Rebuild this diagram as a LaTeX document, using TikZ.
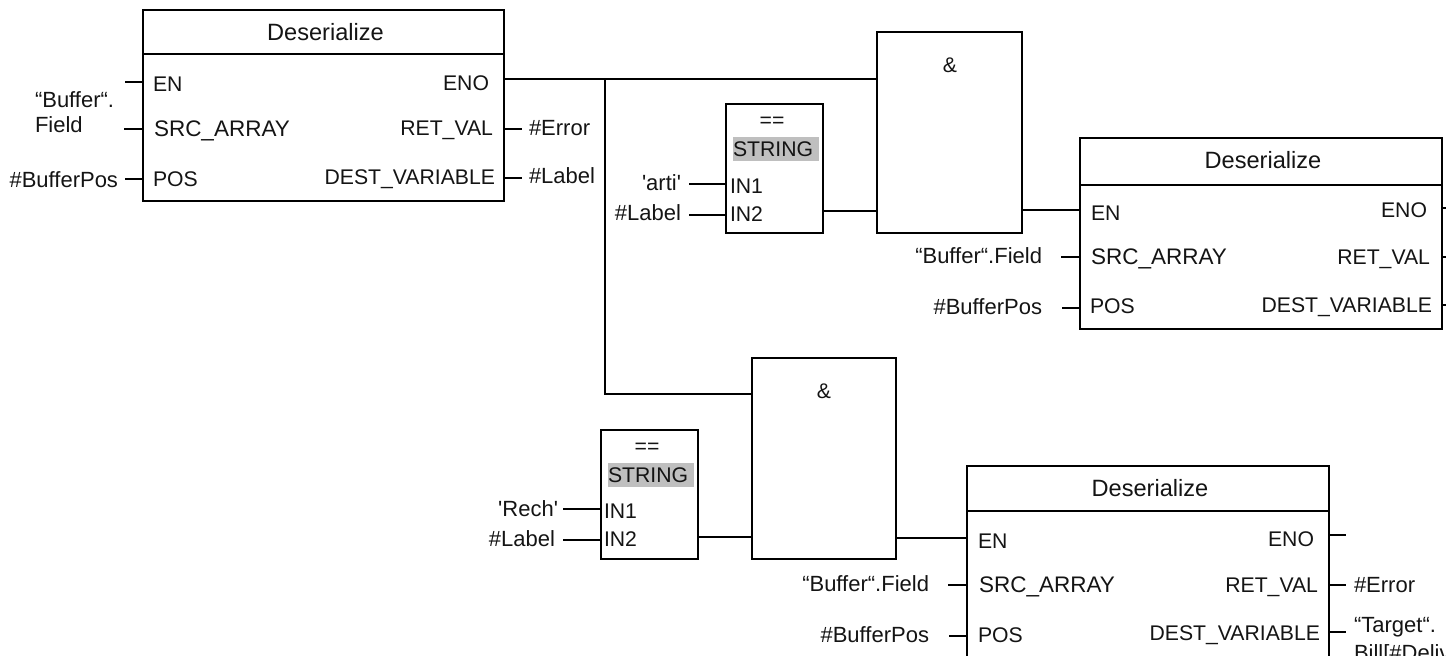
\documentclass[tikz,border=0pt]{standalone}
\usepackage{fontspec}
\setmainfont{Liberation Sans}
\newfontfamily\qf{Liberation Sans}
\tikzset{
  x=0.5pt,y=0.5pt,
  block/.style={draw=black,line width=1.1pt,inner sep=0pt,outer sep=0pt,fill=none},
  wire/.style={draw=black,line width=0.9pt},
  rulel/.style={draw=black,line width=0.7pt},
  txt/.style={inner sep=0pt,outer sep=0pt,text=black!92},
  pin/.style={txt,font=\qf\fontsize{10.6}{13}\selectfont},
  val/.style={txt,font=\qf\fontsize{11}{13}\selectfont},
  ttl/.style={txt,font=\qf\fontsize{11.8}{14}\selectfont,anchor=base},
  lp/.style={pin,anchor=base west},
  lw/.style={txt,font=\qf\fontsize{11.25}{13}\selectfont,anchor=base west},
  rp/.style={pin,anchor=base east},
  cp/.style={pin,anchor=base},
  lv/.style={val,anchor=base west},
  rv/.style={val,anchor=base east},
  grey/.style={pin,fill=black!25,text width=43pt,align=left,minimum height=12pt},
}
\newcommand{\bbox}[5]{% name, left, top, right, bottom
  \node[block,minimum width={(#4-#2)*0.5pt},minimum height={(#5-#3)*0.5pt}] (#1) at ({(#2+#4)/2},{-(#3+#5)/2}) {};}
\begin{document}
\begin{tikzpicture}
\useasboundingbox (0,0) rectangle (1446,-656);
\clip (0,0) rectangle (1446,-656);
% blocks
\bbox{bA}{143}{10}{504}{201}
\bbox{bB}{1080}{138}{1442}{329}
\bbox{bC}{967}{466}{1329}{700}
\bbox{aA}{877}{32}{1022}{233}
\bbox{aB}{752}{358}{896}{559}
\bbox{eA}{726}{104}{823}{233}
\bbox{eB}{601}{430}{698}{559}
% grey type labels
\node[grey] (sA) at (776,-149) {STRING};
\node[grey] (sB) at (651,-475) {STRING};
% title rules
\coordinate (rA) at (143,-54);  \draw[rulel] (rA) -- (rA -| bA.east);
\coordinate (rB) at (1080,-185);\draw[rulel] (rB) -- (rB -| bB.east);
\coordinate (rC) at (967,-511); \draw[rulel] (rC) -- (rC -| bC.east);
% block A pins
\coordinate (pA1) at (125,-82);  \draw[wire] (pA1) -- (pA1 -| bA.west);
\coordinate (pA2) at (124,-129); \draw[wire] (pA2) -- (pA2 -| bA.west);
\coordinate (pA3) at (125,-179); \draw[wire] (pA3) -- (pA3 -| bA.west);
\coordinate (pA5) at (522,-129); \draw[wire] (pA5 -| bA.east) -- (pA5);
\coordinate (pA6) at (522,-178); \draw[wire] (pA6 -| bA.east) -- (pA6);
% power rail
\coordinate (jn) at (605,-79);
\draw[wire] (jn -| bA.east) -- (jn -| aA.west);
\coordinate (jm) at (605,-394);
\draw[wire] (jn) -- (jm) -- (jm -| aB.west);
% compare A
\coordinate (pE1) at (689,-184); \draw[wire] (pE1) -- (pE1 -| eA.west);
\coordinate (pE2) at (689,-215); \draw[wire] (pE2) -- (pE2 -| eA.west);
\coordinate (oE) at (823,-211);  \draw[wire] (oE) -- (oE -| aA.west);
\coordinate (oA) at (1022,-210); \draw[wire] (oA) -- (oA -| bB.west);
% block B pins
\coordinate (pB2) at (1061,-257); \draw[wire] (pB2) -- (pB2 -| bB.west);
\coordinate (pB3) at (1062,-308); \draw[wire] (pB3) -- (pB3 -| bB.west);
\coordinate (pB4) at (1447,-208); \draw[wire] (pB4 -| bB.east) -- (pB4);
\coordinate (pB5) at (1447,-257); \draw[wire] (pB5 -| bB.east) -- (pB5);
\coordinate (pB6) at (1447,-305); \draw[wire] (pB6 -| bB.east) -- (pB6);
% compare B
\coordinate (pF1) at (563,-509); \draw[wire] (pF1) -- (pF1 -| eB.west);
\coordinate (pF2) at (563,-540); \draw[wire] (pF2) -- (pF2 -| eB.west);
\coordinate (oF) at (698,-537);  \draw[wire] (oF) -- (oF -| aB.west);
\coordinate (oB) at (896,-538);  \draw[wire] (oB) -- (oB -| bC.west);
% block C pins
\coordinate (pC2) at (948,-585); \draw[wire] (pC2) -- (pC2 -| bC.west);
\coordinate (pC3) at (949,-636); \draw[wire] (pC3) -- (pC3 -| bC.west);
\coordinate (pC4) at (1346,-535); \draw[wire] (pC4 -| bC.east) -- (pC4);
\coordinate (pC5) at (1346,-585); \draw[wire] (pC5 -| bC.east) -- (pC5);
\coordinate (pC6) at (1346,-632); \draw[wire] (pC6 -| bC.east) -- (pC6);
% text block A
\node[ttl] (tA) at (325.5,-41) {Deserialize};
\node[lp] (tA1) at (153,-92) {EN};
\node[lw] (tA2) at (154,-137) {SRC\_ARRAY};
\node[lp] (tA3) at (153,-187) {POS};
\node[rp] (tA4) at (489,-91) {ENO};
\node[rp] (tA5) at (493,-136) {RET\_VAL};
\node[rp] (tA6) at (495,-185) {DEST\_VARIABLE};
\node[lv] (lA1) at (35,-108) {“Buffer“.};
\node[lv] (lA2) at (35,-133) {Field};
\node[rv] (lA3) at (118,-188) {\#BufferPos};
\node[lv] (lA5) at (529,-136) {\#Error};
\node[lv] (lA6) at (529,-184) {\#Label};
% text AND
\node[cp] (tAa) at (950,-73) {\&};
\node[cp] (tAb) at (824,-399) {\&};
% text compare A
\node[cp] (eqA) at (772,-128) {==};
\node[lp] (iA1) at (730,-194) {IN1};
\node[lp] (iA2) at (730,-222) {IN2};
\node[rv] (lE1) at (681,-191) {'arti'};
\node[rv] (lE2) at (681,-221) {\#Label};
% text block B
\node[ttl] (tB) at (1263,-169) {Deserialize};
\node[lp] (tB1) at (1091,-221) {EN};
\node[lw] (tB2) at (1091,-265) {SRC\_ARRAY};
\node[lp] (tB3) at (1090,-314) {POS};
\node[rp] (tB4) at (1427,-218) {ENO};
\node[rp] (tB5) at (1430,-265) {RET\_VAL};
\node[rp] (tB6) at (1432,-313) {DEST\_VARIABLE};
\node[rv] (lB2) at (1042,-264) {“Buffer“.Field};
\node[rv] (lB3) at (1042,-315) {\#BufferPos};
% text compare B
\node[cp] (eqB) at (647,-454) {==};
\node[lp] (iB1) at (604,-519) {IN1};
\node[lp] (iB2) at (604,-547) {IN2};
\node[rv] (lF1) at (558,-517) {'Rech'};
\node[rv] (lF2) at (555,-547) {\#Label};
% text block C
\node[ttl] (tC) at (1150,-497) {Deserialize};
\node[lp] (tC1) at (978,-549) {EN};
\node[lw] (tC2) at (979,-593) {SRC\_ARRAY};
\node[lp] (tC3) at (978,-643) {POS};
\node[rp] (tC4) at (1314,-547) {ENO};
\node[rp] (tC5) at (1318,-593) {RET\_VAL};
\node[rp] (tC6) at (1320,-641) {DEST\_VARIABLE};
\node[rv] (lC2) at (929,-592) {“Buffer“.Field};
\node[rv] (lC3) at (929,-643) {\#BufferPos};
\node[lv] (lC5) at (1354,-593) {\#Error};
\node[lv] (lC6) at (1354,-633) {“Target“.};
\node[lv] (lC7) at (1354,-661) {Bill[\#Deliv};
\end{tikzpicture}
\end{document}
